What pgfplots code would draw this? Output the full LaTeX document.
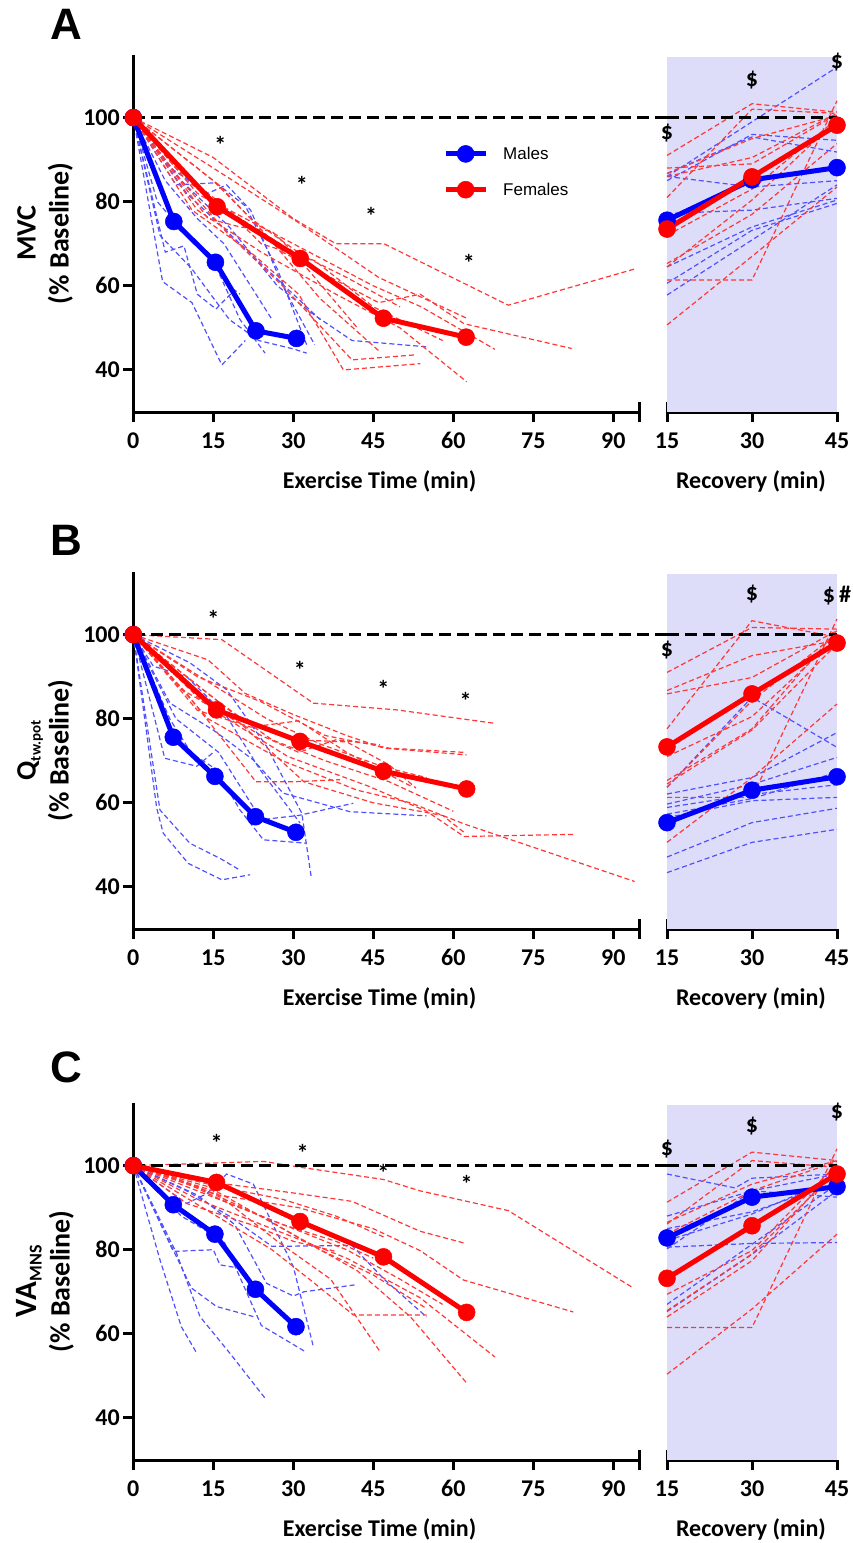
\documentclass[border=0pt]{standalone}
\usepackage{fontspec}
\setmainfont{Carlito}
\newfontfamily\arialfont{Liberation Sans}
\usepackage{pgfplots}
\pgfplotsset{compat=1.18}

\definecolor{mb}{RGB}{0,0,255}
\definecolor{mr}{RGB}{255,0,0}
\definecolor{ib}{RGB}{80,80,255}
\definecolor{ir}{RGB}{255,55,55}
\definecolor{shade}{RGB}{221,221,250}

\newcommand{\tfont}{\fontsize{24bp}{24bp}\selectfont\bfseries}
\newcommand{\yfont}{\fontsize{28bp}{33bp}\selectfont\bfseries}

\pgfplotsset{
 ind/.style={line width=1.2bp, dash pattern=on 5bp off 3bp, no markers, forget plot},
 indb/.style={ind, color=ib},
 indr/.style={ind, color=ir},
 meanb/.style={color=mb, line width=5bp, mark=*, mark size=8.5bp, mark options={solid, fill=mb, line width=0.5bp}},
 meanr/.style={color=mr, line width=5bp, mark=*, mark size=8.5bp, mark options={solid, fill=mr, line width=0.5bp}},
 base/.style={black, line width=3bp, dash pattern=on 12bp off 6bp, no markers, forget plot},
 shadefill/.style={fill=shade, draw=none, forget plot},
 common/.style={scale only axis, height=357.5bp, ymin=30, ymax=115, clip=false,
   axis line style={line width=3bp, -},
   every tick/.style={black, line width=3bp},
   major tick length=10bp, tick align=outside,
   ticklabel style={font=\tfont},
   xticklabel style={yshift=-7bp},
   /pgf/number format/assume math mode=true,
   xlabel style={font=\tfont, anchor=center},
   ylabel style={font=\yfont, align=center, anchor=center, at={(axis description cs:-0.174,0.5)}}},
 exer/.style={common, width=506.7bp, xmin=0, xmax=95,
   axis x line*=bottom, axis y line*=left,
   xtick={0,15,30,45,60,75,90}, ytick={40,60,80,100},
   extra x ticks={95}, extra x tick labels={},
   extra x tick style={tick align=center, major tick length=20bp},
   xlabel={Exercise Time (min)},
   xlabel style={at={(axis description cs:0.486,-0.193)}}},
 reco/.style={common, width=170bp, xmin=15, xmax=45,
   axis x line*=bottom, axis y line=none, ytick=\empty,
   xtick={15,30,45},
   extra x ticks={15}, extra x tick labels={},
   extra x tick style={tick align=inside},
   xlabel={Recovery (min)},
   xlabel style={at={(axis description cs:0.494,-0.193)}}},
}

\begin{document}
\begin{tikzpicture}
\useasboundingbox (0,0) rectangle (853bp,-1543bp);

\node[font=\arialfont\bfseries\fontsize{44bp}{44bp}\selectfont] at (66bp,-24bp) {A};
\node[font=\arialfont\bfseries\fontsize{44bp}{44bp}\selectfont] at (66bp,-540bp) {B};
\node[font=\arialfont\bfseries\fontsize{44bp}{44bp}\selectfont] at (66bp,-1067bp) {C};

%================ PANEL A =================
\begin{axis}[exer, at={(133.3bp,-412bp)}, anchor=south west,
  ylabel={MVC\\(\% Baseline)},
  legend style={at={(axis cs:57.5,94)}, anchor=north west, draw=none, fill=none,
    font=\arialfont\fontsize{17bp}{17bp}\selectfont, row sep=18bp,
    /tikz/every odd column/.append style={column sep=13bp}},
  legend cell align=left,
  legend image code/.code={\draw[mark repeat=2,mark phase=2,#1] plot coordinates {(0bp,0bp) (20bp,0bp) (40bp,0bp)};}]
% males
\addplot[indb] coordinates {(0,100)(5.5,61)(11,56)(16.6,41.2)(21,47)};
\addplot[indb] coordinates {(0,100)(6,68)(9.5,69.5)(12,58)(15.5,54.5)(19,59)(20,58)};
\addplot[indb] coordinates {(0,100)(4.5,80)(10,72)(15,66)(20,52)(24.7,44)};
\addplot[indb] coordinates {(0,100)(5,72)(11,64)(18,52)(23.5,47)(30,45)(32.5,44)};
\addplot[indb] coordinates {(0,100)(8,84)(15.5,84.5)(21,79)(27,64)(32.5,46)};
\addplot[indb] coordinates {(0,100)(7,88)(14,82)(17.5,84)(22,78)(28,60)(34,46)};
\addplot[indb] coordinates {(0,100)(9,85)(18,74)(27,60)(34,53)(41,47)(55,45.5)};
\addplot[indb] coordinates {(0,100)(6,85)(12,76)(17,70)(22,60)(26,52)};
\addplot[indb] coordinates {(0,100)(10,82)(20,70)(30,58)(35,52)};
% females
\addplot[indr] coordinates {(0,100)(15,90.5)(30,76)(38,70)(47,70)(70.3,55.4)(94,64)};
\addplot[indr] coordinates {(0,100)(15,88)(31,75)(46,62)(62.5,52.3)};
\addplot[indr] coordinates {(0,100)(16,84)(28,68)(37,62)(46,56)(53.8,58)(62,51)(82.2,45.1)};
\addplot[indr] coordinates {(0,100)(15,80)(30,70)(45,60)(54,55)(67.8,44.9)};
\addplot[indr] coordinates {(0,100)(12,78)(24,68)(38,58)(50,50)(62.5,37.2)};
\addplot[indr] coordinates {(0,100)(11,78)(22,68)(31,58)(39.4,40)(53.8,41.5)};
\addplot[indr] coordinates {(0,100)(9,85)(18,72)(28,60)(41,42.4)(53,43.6)};
\addplot[indr] coordinates {(0,100)(12,82)(25,72)(35,57)(46.25,44.3)};
\addplot[indr] coordinates {(0,100)(10,85)(20,76)(30,68)(38,56)(42,50)};
\addplot[indr] coordinates {(0,100)(15,85)(22,76)(32,67)(40,62)(50,55)};
\addplot[indr] coordinates {(0,100)(8,88)(16,80)(24,70)(34,66)(45,55)(58,47)};
\addplot[indr] coordinates {(0,100)(14,76)(20,74)(26,73)(30,68)};
\addplot[base] coordinates {(0,100)(100.1,100)};
\addplot[meanb] coordinates {(0,100)(7.6,75.3)(15.4,65.6)(23,49.3)(30.6,47.5)};
\addlegendentry{Males}
\addplot[meanr] coordinates {(0,100)(15.7,78.8)(31.3,66.5)(46.9,52.3)(62.4,47.8)};
\addlegendentry{Females}
\node[font=\tfont] at (axis cs:16.3,93.4) {*};
\node[font=\tfont] at (axis cs:31.6,83.9) {*};
\node[font=\tfont] at (axis cs:44.6,76.6) {*};
\node[font=\tfont] at (axis cs:62.9,65.4) {*};
\end{axis}

\begin{axis}[reco, at={(667bp,-412bp)}, anchor=south west]
\addplot[shadefill] coordinates {(15,30)(15,114.5)(45,114.5)(45,30)} -- cycle;
\addplot[indb] coordinates {(15,86)(30,99)(45,112)};
\addplot[indb] coordinates {(15,86)(30,83.5)(45,85)};
\addplot[indb] coordinates {(15,86.7)(30,95.4)(45,91.8)};
\addplot[indb] coordinates {(15,64.5)(30,74)(45,80.4)};
\addplot[indb] coordinates {(15,60.6)(30,73.2)(45,79.6)};
\addplot[indb] coordinates {(15,57.8)(30,70.9)(45,84)};
\addplot[indb] coordinates {(15,77.2)(30,78)(45,80.8)};
\addplot[indb] coordinates {(15,85)(30,96)(45,94.6)};
\addplot[indr] coordinates {(15,91)(30,103.3)(45,101.3)};
\addplot[indr] coordinates {(15,86.7)(30,95)(45,100.5)};
\addplot[indr] coordinates {(15,86)(30,90.5)(45,101)};
\addplot[indr] coordinates {(15,81)(30,102)(45,101)};
\addplot[indr] coordinates {(15,61.4)(30,61.4)(45,104)};
\addplot[indr] coordinates {(15,50.7)(30,67)(45,83.5)};
\addplot[indr] coordinates {(15,64.5)(30,80.4)(45,99.4)};
\addplot[indr] coordinates {(15,65.3)(30,77)(45,93.8)};
\addplot[indr] coordinates {(15,72)(30,83)(45,99.7)};
\addplot[indr] coordinates {(15,88)(30,89)(45,100.8)};
\addplot[base] coordinates {(15,100)(45,100)};
\addplot[meanb] coordinates {(15,75.6)(30,85.2)(45,88.1)};
\addplot[meanr] coordinates {(15,73.5)(30,85.9)(45,98.2)};
\node[font=\tfont] at (axis cs:15,96.3) {\$};
\node[font=\tfont] at (axis cs:30,108.9) {\$};
\node[font=\tfont] at (axis cs:45,113.1) {\$};
\end{axis}

%================ PANEL B =================
\begin{axis}[exer, at={(133.3bp,-929bp)}, anchor=south west,
  ylabel={Q\raisebox{-5bp}{\fontsize{15bp}{15bp}\selectfont tw.pot}\\(\% Baseline)}]
\addplot[indb] coordinates {(0,100)(4.4,58.7)(5.6,52.8)(10.3,45.6)(16.6,41.7)(21.9,42.9)};
\addplot[indb] coordinates {(0,100)(5,58.3)(10.6,50.4)(16.25,46.8)(20,44)};
\addplot[indb] coordinates {(0,100)(5.9,70.6)(11.9,68.7)(15,72)};
\addplot[indb] coordinates {(0,100)(6.9,79.8)(10.9,71.8)(15.6,67.9)(20,58.3)(24.4,51.2)(32.5,50.4)};
\addplot[indb] coordinates {(0,100)(10.6,93.3)(17.5,86.9)(25,73.4)(31.6,57.5)(33.4,42)};
\addplot[indb] coordinates {(0,100)(6.9,83.7)(15,77.3)(22.5,70.2)(28.1,62.3)(40.6,57.9)(55,56.9)};
\addplot[indb] coordinates {(0,100)(3.75,92.5)(10,90)(17.5,80.6)(23.75,67.9)(31.25,55.2)};
\addplot[indb] coordinates {(0,100)(8,80)(16,72)(24,56)(31,57)(41.25,59.9)};
\addplot[indr] coordinates {(0,100)(16.6,98.8)(33.75,83.7)(49.4,82.1)(67.8,78.9)};
\addplot[indr] coordinates {(0,100)(14,94)(21,86)(30,81)(40,76)(47,73)(62.5,71.4)};
\addplot[indr] coordinates {(0,100)(10,90)(20,80)(30,75)(40,74.5)(48,69)(53,63.5)};
\addplot[indr] coordinates {(0,100)(15,88)(25,80)(35,74)(47,68.5)(55,66)};
\addplot[indr] coordinates {(0,100)(13,84)(24,76)(31,72)(38,75)(46.25,73.8)};
\addplot[indr] coordinates {(0,100)(10,86)(23,65)(30,65)(38.75,65.5)};
\addplot[indr] coordinates {(0,100)(15,82)(29,71)(44,64)(55,58)(62,52)(82.5,52.5)};
\addplot[indr] coordinates {(0,100)(14,80)(28,70)(42,63)(52,60)(62,55)(94,41.3)};
\addplot[indr] coordinates {(0,100)(12,82)(22,78)(31,79.5)(40,72)(52,64)};
\addplot[indr] coordinates {(0,100)(9,87)(20,79)(32,65)(45,60)(58,57)(62,53)};
\addplot[indr] coordinates {(0,100)(16,84)(26,75)(36,70)(48,65)(60,58)};
\addplot[indr] coordinates {(0,100)(12,90)(24,84)(36,76)(48,73)(62,72)};
\addplot[base] coordinates {(0,100)(100.1,100)};
\addplot[meanb] coordinates {(0,100)(7.5,75.6)(15.3,66.3)(22.9,56.7)(30.5,53)};
\addplot[meanr] coordinates {(0,100)(15.6,82.1)(31.25,74.6)(46.9,67.5)(62.5,63.3)};
\node[font=\tfont] at (axis cs:15,103.7) {*};
\node[font=\tfont] at (axis cs:31.25,91.7) {*};
\node[font=\tfont] at (axis cs:46.9,87.2) {*};
\node[font=\tfont] at (axis cs:62.3,84.3) {*};
\end{axis}

\begin{axis}[reco, at={(667bp,-929bp)}, anchor=south west]
\addplot[shadefill] coordinates {(15,30)(15,114.5)(45,114.5)(45,30)} -- cycle;
\addplot[indb] coordinates {(15,43.4)(30,50.6)(45,53.7)};
\addplot[indb] coordinates {(15,47.1)(30,55.3)(45,58.7)};
\addplot[indb] coordinates {(15,63.7)(30,85.1)(45,73.2)};
\addplot[indb] coordinates {(15,62.1)(30,66)(45,76.7)};
\addplot[indb] coordinates {(15,59.7)(30,64.4)(45,70.8)};
\addplot[indb] coordinates {(15,57.3)(30,61)(45,67.3)};
\addplot[indb] coordinates {(15,58.9)(30,62)(45,64.3)};
\addplot[indb] coordinates {(15,56.5)(30,60.5)(45,61.3)};
\addplot[indr] coordinates {(15,91)(30,101.7)(45,101.3)};
\addplot[indr] coordinates {(15,86.7)(30,95)(45,98.6)};
\addplot[indr] coordinates {(15,85.9)(30,89.8)(45,101)};
\addplot[indr] coordinates {(15,77.6)(30,103.3)(45,99.4)};
\addplot[indr] coordinates {(15,63.7)(30,84.3)(45,100.2)};
\addplot[indr] coordinates {(15,65.3)(30,77.6)(45,101)};
\addplot[indr] coordinates {(15,61.3)(30,61.3)(45,103.7)};
\addplot[indr] coordinates {(15,50.6)(30,66)(45,83.5)};
\addplot[indr] coordinates {(15,71)(30,80.5)(45,99.4)};
\addplot[indr] coordinates {(15,64.5)(30,77.3)(45,97.8)};
\addplot[base] coordinates {(15,100)(45,100)};
\addplot[meanb] coordinates {(15,55.3)(30,63)(45,66.2)};
\addplot[meanr] coordinates {(15,73.3)(30,85.9)(45,98)};
\node[font=\tfont] at (axis cs:15,96.3) {\$};
\node[font=\tfont] at (axis cs:30,109.7) {\$};
\node[font=\tfont] at (axis cs:45,109.3) {\$\,\#};
\end{axis}

%================ PANEL C =================
\begin{axis}[exer, at={(133.3bp,-1460bp)}, anchor=south west,
  ylabel={{\fontsize{31bp}{31bp}\selectfont VA}\raisebox{-5bp}{\fontsize{18bp}{18bp}\selectfont MNS}\\(\% Baseline)}]
\addplot[indb] coordinates {(0,100)(5,77.6)(9,61.7)(11.9,55.4)};
\addplot[indb] coordinates {(0,100)(6.25,83.2)(10.9,70.9)(15.6,66.5)(22.5,64.1)};
\addplot[indb] coordinates {(0,100)(8.1,79.2)(12.5,64.1)(18.1,55.4)(24.7,44.7)};
\addplot[indb] coordinates {(0,100)(7.5,79.6)(15,80)(16.25,76.4)(20,75.6)};
\addplot[indb] coordinates {(0,100)(10,91)(13.75,93.3)(17.5,98)(22.5,95.6)(30,76)(33.75,57)};
\addplot[indb] coordinates {(0,100)(9,88)(17,82)(24,62)(32.2,55.8)};
\addplot[indb] coordinates {(0,100)(12,93)(19,86)(25,72)(30,69)(32,70)(41.9,71.7)};
\addplot[indb] coordinates {(0,100)(10,94)(18,88)(26,80.8)(41,81)(47,73)(55,64)};
\addplot[indr] coordinates {(0,100)(24.4,101)(31.9,99.5)(46.9,96.7)(53.75,94)(70.3,89.3)(93.75,70.9)};
\addplot[indr] coordinates {(0,100)(15,96)(30,93.5)(41,91.5)(53.75,84.4)(62.3,81.5)};
\addplot[indr] coordinates {(0,100)(16,93)(31,90)(45,85)(53.75,79.8)(61.9,72.8)(82.5,65.2)};
\addplot[indr] coordinates {(0,100)(12,92)(26,85)(40,78)(53.75,68.6)(67.8,54.5)};
\addplot[indr] coordinates {(0,100)(14,95)(28,85)(42,75)(52,64)(62.7,48)};
\addplot[indr] coordinates {(0,100)(10,91)(22,86)(30,82)(38,79.6)};
\addplot[indr] coordinates {(0,100)(15,94)(27,82)(37,73)(46.25,55.8)};
\addplot[indr] coordinates {(0,100)(13,90)(26,80)(34,72)(41.25,64.5)(55,64.5)};
\addplot[indr] coordinates {(0,100)(12,95)(24,88)(35,80)(45,74)(55,66)};
\addplot[indr] coordinates {(0,100)(14,93)(30,85)(40,80)(50,73)(58,67)};
\addplot[indr] coordinates {(0,100)(8,97)(18,91)(28,86)(38,82)(45,78)};
\addplot[indr] coordinates {(0,100)(16,95)(28,92)(38,88)(47,83)};
\addplot[base] coordinates {(0,100)(100.1,100)};
\addplot[meanb] coordinates {(0,100)(7.5,90.7)(15.3,83.7)(22.9,70.6)(30.5,61.7)};
\addplot[meanr] coordinates {(0,100)(15.6,96)(31.25,86.7)(46.9,78.3)(62.5,65.1)};
\node[font=\tfont] at (axis cs:15.6,105.4) {*};
\node[font=\tfont] at (axis cs:31.75,103) {*};
\node[font=\tfont] at (axis cs:46.9,98.3) {*};
\node[font=\tfont] at (axis cs:62.5,95.6) {*};
\end{axis}

\begin{axis}[reco, at={(667bp,-1460bp)}, anchor=south west]
\addplot[shadefill] coordinates {(15,30)(15,114.5)(45,114.5)(45,30)} -- cycle;
\addplot[indb] coordinates {(15,98)(27,94.7)(30,97)(45,98)};
\addplot[indb] coordinates {(15,88)(30,94)(45,98)};
\addplot[indb] coordinates {(15,85)(30,89)(45,96)};
\addplot[indb] coordinates {(15,80.2)(30,94)(45,92.5)};
\addplot[indb] coordinates {(15,67)(30,81.3)(45,95.6)};
\addplot[indb] coordinates {(15,65.3)(30,78.9)(45,94)};
\addplot[indb] coordinates {(15,80.6)(30,81.5)(45,81.7)};
\addplot[indb] coordinates {(15,82.2)(30,88.5)(45,97.2)};
\addplot[indr] coordinates {(15,91.3)(30,103.2)(45,101.2)};
\addplot[indr] coordinates {(15,86.5)(30,95.6)(45,101.2)};
\addplot[indr] coordinates {(15,86.1)(30,101.2)(45,99.6)};
\addplot[indr] coordinates {(15,64)(30,77.4)(45,99.6)};
\addplot[indr] coordinates {(15,61.5)(30,61.5)(45,104)};
\addplot[indr] coordinates {(15,50.4)(30,65.9)(45,83.7)};
\addplot[indr] coordinates {(15,65.5)(30,79)(45,98.8)};
\addplot[indr] coordinates {(15,69.4)(30,79.8)(45,100.4)};
\addplot[indr] coordinates {(15,83.7)(30,94)(45,101)};
\addplot[base] coordinates {(15,100)(45,100)};
\addplot[meanb] coordinates {(15,82.8)(30,92.5)(45,95)};
\addplot[meanr] coordinates {(15,73.2)(30,85.7)(45,98)};
\node[font=\tfont] at (axis cs:15,104) {\$};
\node[font=\tfont] at (axis cs:30,109.5) {\$};
\node[font=\tfont] at (axis cs:45,112.7) {\$};
\end{axis}
\end{tikzpicture}
\end{document}
